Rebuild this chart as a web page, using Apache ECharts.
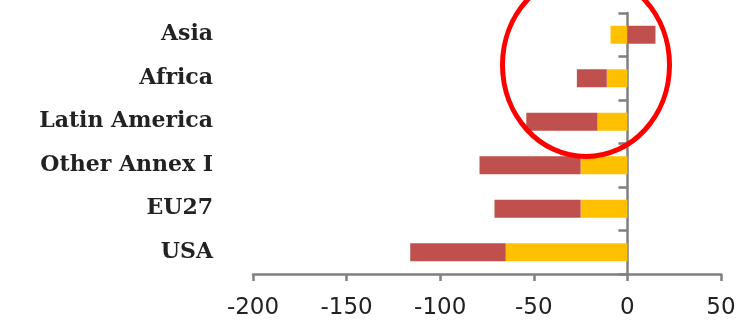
<!DOCTYPE html>
<html>
<head>
<meta charset="utf-8">
<script src="https://cdn.jsdelivr.net/npm/echarts@6/dist/echarts.min.js"></script>
<style>
  html, body { margin: 0; padding: 0; background: #ffffff; }
  #chart { width: 744px; height: 330px; }
</style>
</head>
<body>
<div id="chart"></div>
<script>
// Regions, listed top to bottom
const regions = ['Asia', 'Africa', 'Latin America', 'Other Annex I', 'EU27', 'USA'];
// Inner segment (next to zero) and outer segment of each stacked bar
const innerPart = [-9, -11, -16, -25, -25, -65];
const outerPart = [15, -16, -38, -54, -46, -51];
// Value axis range
const xMin = -200;
const xMax = 50;
const xStep = 50;

const axisGray = '#808080';
const chart = echarts.init(document.getElementById('chart'), null, { renderer: 'canvas' });

chart.setOption({
  animation: false,
  backgroundColor: '#ffffff',
  grid: { left: 253, right: 23, top: 13, bottom: 56, containLabel: false },
  xAxis: {
    type: 'value',
    min: xMin,
    max: xMax,
    interval: xStep,
    axisLine: { show: true, onZero: false, lineStyle: { color: axisGray, width: 2.5 } },
    axisTick: { show: true, length: 7, lineStyle: { color: axisGray, width: 2.5 } },
    splitLine: { show: false },
    axisLabel: {
      margin: 23,
      color: '#222222',
      fontFamily: 'DejaVu Sans',
      fontSize: 23
    }
  },
  yAxis: [
    {
      // axis line and ticks, sitting on zero
      type: 'category',
      data: regions,
      inverse: true,
      position: 'left',
      axisLine: { show: true, onZero: true, lineStyle: { color: axisGray, width: 2.5 } },
      axisTick: { show: true, length: 9, lineStyle: { color: axisGray, width: 2.5 } },
      axisLabel: { show: false },
      splitLine: { show: false }
    },
    {
      // region names along the left edge of the plot
      type: 'category',
      data: regions,
      inverse: true,
      position: 'left',
      axisLine: { show: false, onZero: false },
      axisTick: { show: false },
      splitLine: { show: false },
      axisLabel: {
        margin: 40,
        color: '#222222',
        fontFamily: 'DejaVu Serif',
        fontWeight: 'bold',
        fontSize: 22,
        padding: [3, 0, 0, 0]
      }
    }
  ],
  series: [
    {
      type: 'bar',
      stack: 'total',
      yAxisIndex: 0,
      barWidth: 18,
      itemStyle: { color: '#FFC000' },
      data: innerPart
    },
    {
      type: 'bar',
      stack: 'total',
      yAxisIndex: 0,
      barWidth: 18,
      itemStyle: { color: '#C0504D' },
      data: outerPart
    }
  ],
  graphic: [
    {
      // highlight ring round the top three regions near zero
      type: 'ellipse',
      z: 100,
      x: 586,
      y: 65,
      shape: { cx: 0, cy: 0, rx: 83.5, ry: 91.5 },
      style: { fill: 'none', stroke: '#FF0000', lineWidth: 5 }
    }
  ]
});
</script>
</body>
</html>
